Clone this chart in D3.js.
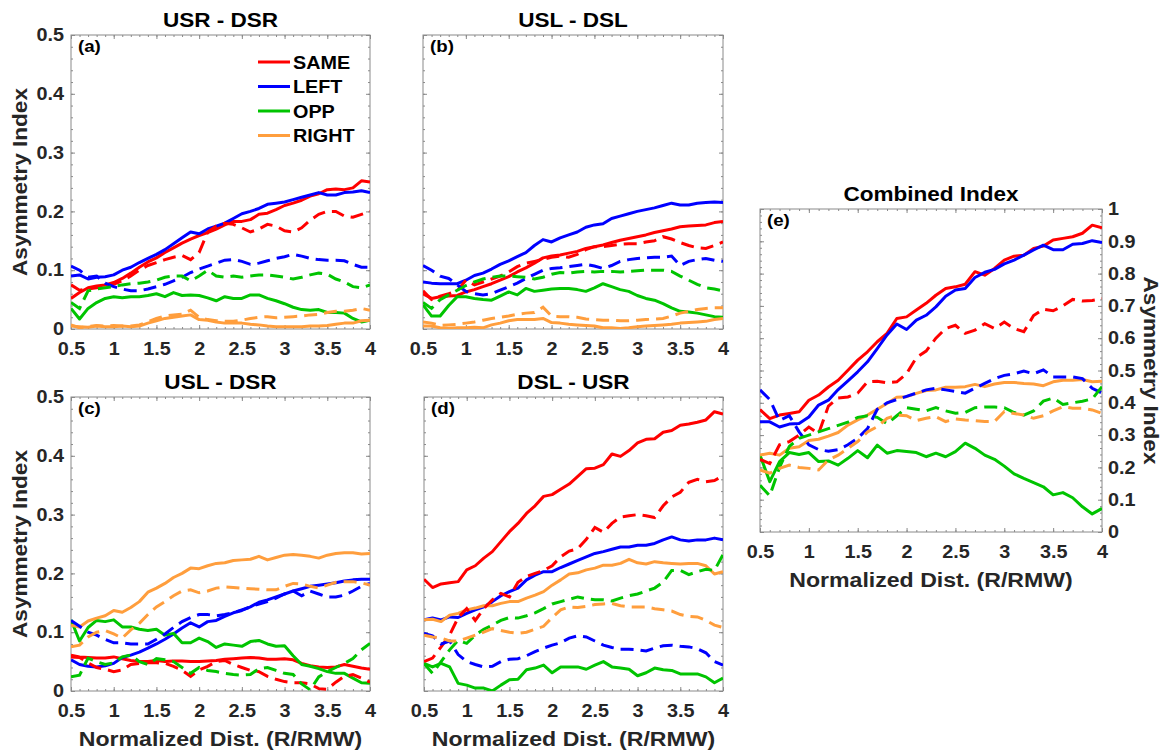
<!DOCTYPE html>
<html>
<head>
<meta charset="utf-8">
<script src="https://cdn.jsdelivr.net/npm/d3@7"></script>
<style>
  body { margin: 0; background: #fff; }
  text { font-family: "Liberation Sans", Arial, Helvetica, sans-serif; font-weight: bold; }
</style>
</head>
<body>
<script>
// normalized distance (R/RMW)
var dist = [0.5,0.6,0.7,0.8,0.9,1.0,1.1,1.2,1.3,1.4,1.5,1.6,1.7,1.8,1.9,2.0,2.1,2.2,2.3,2.4,
            2.5,2.6,2.7,2.8,2.9,3.0,3.1,3.2,3.3,3.4,3.5,3.6,3.7,3.8,3.9,4.0];
var categories = ["SAME", "LEFT", "OPP", "RIGHT"];
var xTicks = [0.5, 1, 1.5, 2, 2.5, 3, 3.5, 4];
var yTicks = [0, 0.1, 0.2, 0.3, 0.4, 0.5];
var yTicksCombined = [0, 0.1, 0.2, 0.3, 0.4, 0.5, 0.6, 0.7, 0.8, 0.9, 1];

// (a) USR - DSR
var usrDsrSame = [0.052,0.062,0.07,0.073,0.075,0.079,0.086,0.095,0.105,0.114,0.121,0.13,0.138,0.146,0.153,0.159,0.164,0.17,0.177,0.183,0.183,0.186,0.195,0.197,0.203,0.21,0.214,0.219,0.226,0.23,0.237,0.238,0.237,0.24,0.252,0.25];
var usrDsrSameDash = [0.075,0.066,0.068,0.07,0.072,0.076,0.082,0.09,0.1,0.108,0.113,0.118,0.122,0.125,0.118,0.13,0.165,0.175,0.18,0.178,0.172,0.165,0.17,0.178,0.175,0.167,0.165,0.172,0.185,0.195,0.2,0.2,0.192,0.19,0.195,0.2];
var usrDsrLeft = [0.09,0.092,0.085,0.088,0.089,0.092,0.1,0.105,0.113,0.12,0.127,0.135,0.145,0.155,0.165,0.162,0.17,0.175,0.18,0.188,0.196,0.2,0.205,0.212,0.214,0.216,0.22,0.224,0.228,0.232,0.228,0.228,0.232,0.233,0.235,0.232];
var usrDsrLeftDash = [0.107,0.1,0.088,0.09,0.078,0.072,0.068,0.065,0.065,0.068,0.072,0.076,0.082,0.088,0.096,0.102,0.107,0.112,0.117,0.118,0.115,0.11,0.112,0.116,0.12,0.123,0.127,0.124,0.12,0.118,0.117,0.117,0.116,0.11,0.105,0.105];
var usrDsrOpp = [0.035,0.017,0.035,0.045,0.052,0.055,0.053,0.055,0.055,0.057,0.06,0.055,0.062,0.057,0.058,0.057,0.053,0.048,0.055,0.052,0.052,0.058,0.058,0.052,0.048,0.043,0.037,0.033,0.032,0.033,0.028,0.028,0.027,0.018,0.012,0.015];
var usrDsrOppDash = [0.045,0.035,0.065,0.068,0.07,0.072,0.075,0.077,0.078,0.08,0.083,0.088,0.09,0.09,0.082,0.09,0.1,0.09,0.088,0.09,0.088,0.09,0.092,0.092,0.09,0.088,0.085,0.088,0.092,0.095,0.093,0.085,0.08,0.072,0.07,0.075];
var usrDsrRight = [0.005,0.004,0.003,0.005,0.004,0.004,0.005,0.004,0.005,0.01,0.014,0.018,0.02,0.022,0.024,0.016,0.015,0.012,0.01,0.01,0.01,0.008,0.007,0.005,0.004,0.004,0.004,0.004,0.005,0.005,0.006,0.008,0.01,0.01,0.014,0.015];
var usrDsrRightDash = [0.007,0.002,0.004,0.006,0.005,0.006,0.005,0.005,0.007,0.012,0.018,0.022,0.024,0.025,0.032,0.02,0.016,0.014,0.013,0.013,0.015,0.018,0.02,0.021,0.019,0.02,0.021,0.022,0.024,0.025,0.028,0.03,0.03,0.032,0.035,0.032];

// (b) USL - DSL
var uslDslSame = [0.06,0.052,0.055,0.056,0.057,0.063,0.067,0.072,0.077,0.083,0.089,0.097,0.104,0.112,0.121,0.124,0.126,0.129,0.132,0.137,0.14,0.143,0.147,0.151,0.154,0.157,0.16,0.164,0.167,0.17,0.174,0.175,0.176,0.177,0.181,0.183];
var uslDslSameDash = [0.065,0.05,0.056,0.06,0.065,0.083,0.075,0.08,0.085,0.09,0.097,0.106,0.112,0.115,0.118,0.122,0.124,0.122,0.127,0.135,0.14,0.14,0.142,0.144,0.145,0.145,0.148,0.15,0.157,0.153,0.147,0.142,0.138,0.137,0.142,0.148];
var uslDslLeft = [0.08,0.078,0.077,0.077,0.077,0.083,0.091,0.095,0.102,0.11,0.116,0.123,0.13,0.142,0.152,0.148,0.155,0.16,0.165,0.173,0.177,0.179,0.188,0.192,0.196,0.2,0.203,0.206,0.21,0.214,0.211,0.211,0.214,0.215,0.216,0.215];
var uslDslLeftDash = [0.108,0.1,0.09,0.086,0.075,0.064,0.06,0.058,0.06,0.066,0.072,0.078,0.086,0.093,0.1,0.103,0.104,0.106,0.108,0.11,0.107,0.103,0.108,0.115,0.118,0.12,0.121,0.122,0.122,0.124,0.108,0.115,0.118,0.12,0.117,0.115];
var uslDslOpp = [0.041,0.022,0.022,0.04,0.055,0.055,0.052,0.05,0.049,0.056,0.063,0.058,0.069,0.064,0.066,0.068,0.069,0.069,0.067,0.064,0.07,0.077,0.072,0.067,0.064,0.057,0.052,0.049,0.043,0.036,0.03,0.029,0.027,0.024,0.021,0.02];
var uslDslOppDash = [0.045,0.035,0.05,0.058,0.066,0.074,0.08,0.085,0.088,0.09,0.09,0.089,0.088,0.085,0.088,0.093,0.096,0.095,0.097,0.098,0.097,0.098,0.098,0.097,0.098,0.099,0.1,0.1,0.1,0.098,0.09,0.083,0.076,0.07,0.068,0.065];
var uslDslRight = [0.005,0.005,0.002,0.001,0.002,0.002,0.003,0.002,0.007,0.01,0.014,0.016,0.016,0.016,0.018,0.011,0.01,0.008,0.007,0.006,0.005,0.002,0.002,0.001,0.002,0.004,0.005,0.006,0.007,0.008,0.01,0.011,0.012,0.013,0.016,0.018];
var uslDslRightDash = [0.012,0.01,0.006,0.007,0.008,0.01,0.012,0.015,0.018,0.02,0.022,0.025,0.027,0.028,0.037,0.022,0.021,0.021,0.02,0.017,0.016,0.015,0.015,0.014,0.014,0.015,0.016,0.017,0.018,0.022,0.027,0.03,0.033,0.035,0.036,0.036];

// (c) USL - DSR
var uslDsrSame = [0.061,0.058,0.057,0.056,0.056,0.058,0.055,0.052,0.05,0.05,0.052,0.05,0.051,0.051,0.05,0.05,0.051,0.052,0.054,0.055,0.056,0.057,0.056,0.054,0.054,0.055,0.053,0.047,0.043,0.041,0.04,0.041,0.045,0.042,0.039,0.037];
var uslDsrSameDash = [0.058,0.057,0.048,0.04,0.037,0.033,0.036,0.045,0.047,0.048,0.048,0.047,0.042,0.035,0.025,0.036,0.042,0.05,0.052,0.045,0.04,0.035,0.033,0.025,0.02,0.016,0.014,0.014,0.012,0.004,0.003,0.015,0.025,0.028,0.022,0.015];
var uslDsrLeft = [0.053,0.045,0.042,0.041,0.043,0.047,0.057,0.061,0.066,0.073,0.08,0.088,0.097,0.107,0.116,0.109,0.118,0.12,0.127,0.133,0.137,0.143,0.151,0.155,0.16,0.165,0.17,0.174,0.178,0.18,0.182,0.184,0.187,0.189,0.19,0.19];
var uslDsrLeftDash = [0.12,0.11,0.1,0.095,0.088,0.082,0.082,0.08,0.08,0.08,0.088,0.097,0.108,0.118,0.125,0.13,0.13,0.128,0.13,0.133,0.138,0.143,0.148,0.152,0.158,0.165,0.17,0.162,0.17,0.165,0.16,0.16,0.163,0.17,0.178,0.183];
var uslDsrOpp = [0.121,0.085,0.108,0.12,0.118,0.121,0.109,0.109,0.105,0.103,0.105,0.095,0.098,0.082,0.082,0.09,0.084,0.074,0.08,0.078,0.076,0.084,0.086,0.08,0.076,0.077,0.06,0.045,0.042,0.038,0.033,0.03,0.03,0.022,0.014,0.013];
var uslDsrOppDash = [0.024,0.027,0.056,0.05,0.045,0.048,0.058,0.061,0.05,0.045,0.055,0.053,0.05,0.04,0.03,0.04,0.035,0.033,0.03,0.028,0.027,0.028,0.038,0.04,0.035,0.03,0.028,0.012,0.002,0.024,0.033,0.04,0.047,0.055,0.07,0.081];
var uslDsrRight = [0.112,0.109,0.119,0.124,0.128,0.137,0.134,0.142,0.152,0.168,0.175,0.183,0.193,0.2,0.209,0.208,0.213,0.217,0.218,0.222,0.223,0.224,0.229,0.223,0.227,0.231,0.232,0.231,0.229,0.226,0.231,0.234,0.235,0.235,0.233,0.234];
var uslDsrRightDash = [0.075,0.078,0.092,0.1,0.103,0.097,0.09,0.104,0.115,0.13,0.143,0.152,0.162,0.17,0.172,0.167,0.17,0.175,0.177,0.176,0.175,0.174,0.173,0.172,0.172,0.178,0.183,0.182,0.178,0.175,0.18,0.185,0.186,0.186,0.184,0.18];

// (d) DSL - USR
var dslUsrSame = [0.19,0.176,0.182,0.184,0.186,0.206,0.213,0.226,0.237,0.254,0.271,0.285,0.302,0.315,0.331,0.334,0.343,0.352,0.365,0.378,0.379,0.385,0.403,0.399,0.409,0.422,0.428,0.429,0.44,0.443,0.452,0.454,0.457,0.461,0.475,0.471];
var dslUsrSameDash = [0.05,0.056,0.075,0.095,0.125,0.14,0.12,0.14,0.155,0.166,0.16,0.185,0.195,0.2,0.205,0.213,0.228,0.238,0.242,0.258,0.278,0.27,0.285,0.296,0.298,0.3,0.298,0.295,0.315,0.33,0.338,0.355,0.36,0.356,0.358,0.366];
var dslUsrLeft = [0.121,0.124,0.121,0.126,0.125,0.132,0.138,0.143,0.152,0.162,0.169,0.175,0.189,0.197,0.203,0.203,0.21,0.216,0.222,0.228,0.234,0.237,0.241,0.245,0.245,0.248,0.248,0.251,0.257,0.262,0.257,0.255,0.257,0.257,0.26,0.257];
var dslUsrLeftDash = [0.098,0.094,0.08,0.085,0.062,0.05,0.045,0.041,0.042,0.05,0.054,0.055,0.06,0.067,0.073,0.078,0.082,0.09,0.094,0.092,0.085,0.078,0.074,0.071,0.071,0.07,0.068,0.073,0.077,0.078,0.076,0.075,0.072,0.065,0.05,0.044];
var dslUsrOpp = [0.047,0.041,0.047,0.041,0.013,0.01,0.005,0.005,0.0,0.01,0.019,0.02,0.036,0.039,0.044,0.031,0.041,0.041,0.041,0.037,0.044,0.05,0.041,0.039,0.037,0.026,0.031,0.039,0.036,0.035,0.029,0.029,0.029,0.024,0.014,0.022];
var dslUsrOppDash = [0.047,0.03,0.05,0.07,0.086,0.081,0.095,0.105,0.112,0.12,0.125,0.124,0.128,0.133,0.14,0.148,0.152,0.156,0.16,0.157,0.155,0.155,0.153,0.158,0.162,0.165,0.17,0.175,0.185,0.205,0.205,0.198,0.203,0.207,0.205,0.232];
var dslUsrRight = [0.121,0.122,0.118,0.129,0.132,0.138,0.141,0.145,0.145,0.149,0.152,0.152,0.158,0.163,0.169,0.18,0.189,0.199,0.201,0.206,0.209,0.214,0.214,0.217,0.224,0.218,0.216,0.22,0.218,0.217,0.216,0.217,0.217,0.213,0.199,0.203];
var dslUsrRightDash = [0.095,0.092,0.09,0.085,0.085,0.09,0.095,0.1,0.106,0.103,0.1,0.098,0.1,0.105,0.11,0.125,0.138,0.143,0.142,0.144,0.147,0.148,0.149,0.145,0.143,0.143,0.143,0.14,0.138,0.136,0.13,0.127,0.126,0.12,0.112,0.108];

// (e) Combined Index
var combSame = [0.379,0.351,0.362,0.367,0.372,0.408,0.424,0.449,0.47,0.501,0.532,0.558,0.589,0.615,0.661,0.666,0.687,0.708,0.733,0.754,0.759,0.767,0.806,0.795,0.816,0.842,0.854,0.857,0.878,0.885,0.904,0.909,0.914,0.925,0.95,0.942];
var combSameDash = [0.225,0.212,0.27,0.28,0.3,0.325,0.305,0.39,0.415,0.418,0.43,0.465,0.467,0.462,0.465,0.49,0.54,0.56,0.6,0.63,0.64,0.615,0.625,0.645,0.63,0.65,0.63,0.62,0.67,0.69,0.685,0.7,0.72,0.715,0.717,0.722];
var combLeft = [0.341,0.341,0.325,0.334,0.336,0.356,0.393,0.408,0.441,0.468,0.496,0.527,0.568,0.61,0.644,0.627,0.656,0.671,0.697,0.73,0.749,0.754,0.788,0.804,0.813,0.83,0.842,0.857,0.873,0.888,0.874,0.874,0.891,0.893,0.902,0.896];
var combLeftDash = [0.44,0.41,0.345,0.36,0.31,0.27,0.255,0.25,0.255,0.27,0.29,0.32,0.38,0.4,0.41,0.42,0.43,0.44,0.445,0.44,0.435,0.43,0.445,0.46,0.475,0.485,0.49,0.498,0.49,0.502,0.48,0.48,0.48,0.475,0.445,0.43];
var combOpp = [0.238,0.156,0.218,0.246,0.24,0.246,0.218,0.22,0.207,0.228,0.252,0.23,0.269,0.244,0.252,0.249,0.246,0.233,0.244,0.233,0.249,0.275,0.259,0.238,0.225,0.204,0.18,0.166,0.153,0.14,0.115,0.122,0.106,0.078,0.056,0.073];
var combOppDash = [0.145,0.112,0.2,0.265,0.29,0.3,0.31,0.32,0.33,0.34,0.355,0.36,0.355,0.335,0.36,0.385,0.38,0.375,0.385,0.375,0.368,0.37,0.385,0.387,0.387,0.385,0.37,0.362,0.375,0.405,0.415,0.395,0.4,0.405,0.412,0.45];
var combRight = [0.238,0.244,0.238,0.259,0.264,0.283,0.287,0.297,0.308,0.331,0.347,0.362,0.38,0.398,0.417,0.419,0.429,0.438,0.44,0.448,0.448,0.45,0.457,0.45,0.458,0.463,0.463,0.46,0.458,0.453,0.465,0.47,0.47,0.472,0.465,0.467];
var combRightDash = [0.192,0.182,0.197,0.207,0.2,0.197,0.192,0.223,0.238,0.259,0.28,0.31,0.326,0.352,0.362,0.36,0.345,0.352,0.357,0.342,0.35,0.347,0.345,0.342,0.342,0.373,0.367,0.362,0.352,0.36,0.375,0.388,0.383,0.383,0.378,0.367];

var colors = ["#ff0000", "#0000ff", "#00c400", "#ff9e3d"];
var axisGray = "#8a8a8a";
var labelColor = "#262626";
var SX = 1.1; // the figure font is a bit wider than Arial

var panels = [
  {tag: "(a)", title: "USR - DSR", box: [71, 35, 299, 294], yMax: 0.5, ticks: yTicks, ySide: "left", xLabel: false, legend: true,
   solid: [usrDsrSame, usrDsrLeft, usrDsrOpp, usrDsrRight], dashed: [usrDsrSameDash, usrDsrLeftDash, usrDsrOppDash, usrDsrRightDash]},
  {tag: "(b)", title: "USL - DSL", box: [423, 35, 300, 294], yMax: 0.5, ticks: yTicks, ySide: "none", xLabel: false,
   solid: [uslDslSame, uslDslLeft, uslDslOpp, uslDslRight], dashed: [uslDslSameDash, uslDslLeftDash, uslDslOppDash, uslDslRightDash]},
  {tag: "(c)", title: "USL - DSR", box: [71, 397, 299, 294], yMax: 0.5, ticks: yTicks, ySide: "left", xLabel: true,
   solid: [uslDsrSame, uslDsrLeft, uslDsrOpp, uslDsrRight], dashed: [uslDsrSameDash, uslDsrLeftDash, uslDsrOppDash, uslDsrRightDash]},
  {tag: "(d)", title: "DSL - USR", box: [424, 397, 299, 294], yMax: 0.5, ticks: yTicks, ySide: "none", xLabel: true,
   solid: [dslUsrSame, dslUsrLeft, dslUsrOpp, dslUsrRight], dashed: [dslUsrSameDash, dslUsrLeftDash, dslUsrOppDash, dslUsrRightDash]},
  {tag: "(e)", title: "Combined Index", box: [760, 209, 342, 323], yMax: 1, ticks: yTicksCombined, ySide: "right", xLabel: true,
   solid: [combSame, combLeft, combOpp, combRight], dashed: [combSameDash, combLeftDash, combOppDash, combRightDash]}
];

var svg = d3.select("body").append("svg")
  .attr("width", 1171)
  .attr("height", 753);

// text helper: wide glyphs via a horizontal stretch
function label(g, x, y, str, size, anchor, rot) {
  return g.append("text")
    .attr("transform", "translate(" + x + "," + y + ")" + (rot ? " rotate(" + rot + ")" : "") + " scale(" + SX + ",1)")
    .attr("text-anchor", anchor)
    .style("font-size", size + "px")
    .text(str);
}

panels.forEach(function(p, pi) {
  var w = p.box[2], h = p.box[3];
  var g = svg.append("g").attr("transform", "translate(" + p.box[0] + "," + p.box[1] + ")");

  var x = d3.scaleLinear().domain([0.5, 4]).range([0, w]);
  var y = d3.scaleLinear().domain([0, p.yMax]).range([h, 0]);

  svg.append("clipPath").attr("id", "clip" + pi)
    .append("rect").attr("width", w).attr("height", h);

  // minor ticks
  var xMinor = d3.range(0.5, 4.0001, 0.1);
  var yMinor = d3.range(0, p.yMax + 0.0001, 0.02);
  var minor = [
    [d3.axisBottom(x).tickValues(xMinor), "translate(0," + h + ")"],
    [d3.axisTop(x).tickValues(xMinor), null],
    [d3.axisLeft(y).tickValues(yMinor), null],
    [d3.axisRight(y).tickValues(yMinor), "translate(" + w + ",0)"]
  ];
  minor.forEach(function(m) {
    var a = g.append("g").attr("transform", m[1])
      .call(m[0].tickSize(-2).tickSizeOuter(0).tickFormat(""));
    a.select(".domain").remove();
    a.selectAll("line").attr("stroke", axisGray);
  });

  // major ticks and labels
  var xb = g.append("g").attr("transform", "translate(0," + h + ")")
    .call(d3.axisBottom(x).tickValues(xTicks).tickSize(-4).tickSizeOuter(0).tickPadding(13).tickFormat(String));
  var xt = g.append("g")
    .call(d3.axisTop(x).tickValues(xTicks).tickSize(-4).tickSizeOuter(0).tickFormat(""));
  var yl = g.append("g")
    .call(d3.axisLeft(y).tickValues(p.ticks).tickSize(-4).tickSizeOuter(0).tickPadding(6.3)
      .tickFormat(p.ySide === "left" ? String : ""));
  var yr = g.append("g").attr("transform", "translate(" + w + ",0)")
    .call(d3.axisRight(y).tickValues(p.ticks).tickSize(-4).tickSizeOuter(0).tickPadding(5.5)
      .tickFormat(p.ySide === "right" ? String : ""));
  [xb, xt, yl, yr].forEach(function(a) {
    a.select(".domain").remove();
    a.selectAll("line").attr("stroke", axisGray);
    a.selectAll("text")
      .attr("transform", "scale(" + SX + ",1)")
      .attr("fill", labelColor)
      .style("font-size", "18px")
      .style("font-family", null);
  });

  // box
  g.append("rect").attr("width", w).attr("height", h)
    .attr("fill", "none").attr("stroke", axisGray).attr("stroke-width", 1);

  // lines
  var line = d3.line().x(function(d, i) { return x(dist[i]); }).y(function(d) { return y(d); });
  var plot = g.append("g").attr("clip-path", "url(#clip" + pi + ")");
  p.solid.forEach(function(s, i) {
    plot.append("path").datum(s).attr("d", line)
      .attr("fill", "none").attr("stroke", colors[i]).attr("stroke-width", 3)
      .attr("stroke-linejoin", "round");
  });
  p.dashed.forEach(function(s, i) {
    plot.append("path").datum(s).attr("d", line)
      .attr("fill", "none").attr("stroke", colors[i]).attr("stroke-width", 3)
      .attr("stroke-dasharray", "13,7");
  });

  // texts
  label(g, w / 2, -8, p.title, 20.5, "middle").attr("fill", "#000");
  label(g, 7, 17, p.tag, 17, "start").attr("fill", "#000");
  if (p.ySide === "left") label(g, -44, h / 2, "Asymmetry Index", 20.5, "middle", -90).attr("fill", labelColor);
  if (p.ySide === "right") label(g, w + 42, h / 2, "Asymmetry Index", 20.5, "middle", 90).attr("fill", labelColor);
  if (p.xLabel) label(g, w / 2, h + 55, "Normalized Dist. (R/RMW)", 21, "middle").attr("fill", labelColor);

  if (p.legend) {
    var lg = g.append("g").attr("transform", "translate(187,27)");
    categories.forEach(function(c, i) {
      var row = lg.append("g").attr("transform", "translate(0," + (i * 24.5) + ")");
      row.append("line").attr("x1", 0).attr("x2", 32)
        .attr("stroke", colors[i]).attr("stroke-width", 3);
      label(row, 35, 6.5, c, 18, "start").attr("fill", "#000");
    });
  }
});
</script>
</body>
</html>
